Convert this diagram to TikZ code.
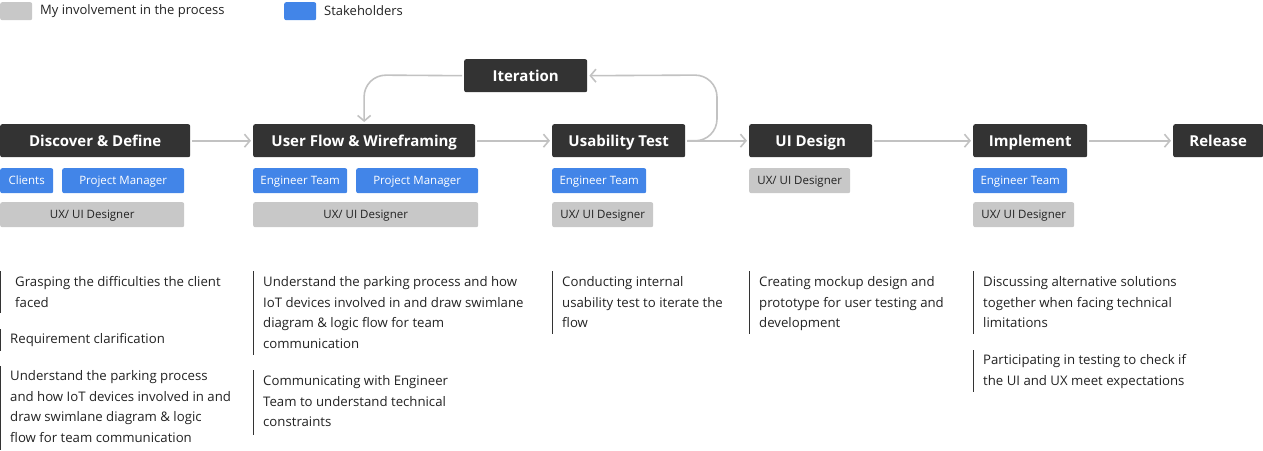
\documentclass[tikz,border=0pt]{standalone}
\usepackage{fontspec}
\setmainfont{Open Sans}
\usetikzlibrary{arrows.meta}
\definecolor{darkc}{HTML}{333333}
\definecolor{bluec}{HTML}{4285E8}
\definecolor{grayc}{HTML}{C8C8C8}
\definecolor{arrc}{HTML}{C2C2C2}
\definecolor{txtc}{HTML}{222222}
\tikzset{
  darkbox/.style={fill=darkc, text=white, rounded corners=2, font=\bfseries\fontsize{15}{17}\selectfont, minimum height=33, inner sep=0, text height=10.7, text depth=0, anchor=north west},
  bluebox/.style={fill=bluec, text=white, rounded corners=2, font=\fontsize{11.5}{13}\selectfont, minimum height=25, inner sep=0, text height=8.2, text depth=0, anchor=north west},
  graybox/.style={fill=grayc, text=txtc, rounded corners=2, font=\fontsize{11.5}{13}\selectfont, minimum height=25, inner sep=0, text height=8.2, text depth=0, anchor=north west},
  legbox/.style={rounded corners=2, minimum width=32, minimum height=18, inner sep=0, anchor=north west},
  legtxt/.style={text=txtc, font=\fontsize{13}{15}\selectfont, anchor=west, inner sep=0},
  desc/.style={text=txtc, font=\fontsize{13.2}{20.8}\selectfont, align=left, anchor=north west, inner sep=0},
  bar/.style={draw=darkc, line width=1},
  conn/.style={draw=arrc, line width=1.6, -{Straight Barb[length=5.5,width=13]}, shorten >=2, shorten <=2},
}
\begin{document}
\begin{tikzpicture}[x=1pt,y=-1pt]
\useasboundingbox (0,0) rectangle (1263,450);
% legend
\node[legbox, fill=grayc] (lg) at (0,2) {};
\node[legtxt] (lgt) at (40,11) {My involvement in the process};
\node[legbox, fill=bluec] (lb) at (284,2) {};
\node[legtxt] (lbt) at (324,11) {Stakeholders};
% main steps
\node[darkbox, minimum width=190] (dd) at (0,124) {Discover \& Define};
\node[darkbox, minimum width=222] (uf) at (253,124) {User Flow \& Wireframing};
\node[darkbox, minimum width=133] (ut) at (552,124) {Usability Test};
\node[darkbox, minimum width=123] (ui) at (749,124) {UI Design};
\node[darkbox, minimum width=114] (im) at (973,124) {Implement};
\node[darkbox, minimum width=90] (re) at (1173,124) {Release};
\node[darkbox, minimum width=123] (it) at (464,59) {Iteration};
% connectors
\draw[conn] (dd) -- (uf);
\draw[conn] (uf) -- (ut);
\draw[conn] (ut) -- (ui);
\draw[conn] (ui) -- (im);
\draw[conn] (im) -- (re);
\coordinate (c1) at (717,141);
\coordinate (c2) at (717,75);
\coordinate (c3) at (364,75);
\draw[conn, rounded corners=22] (ut.east) -- (c1) -- (c2) -- (it.east);
\draw[conn, rounded corners=22] (it.west) -- (c3) -- (uf.north);
% stakeholders
\node[bluebox, minimum width=53] (s1) at (0,168) {Clients};
\node[bluebox, minimum width=122] (s2) at (62,168) {Project Manager};
\node[graybox, minimum width=184] (s3) at (0,202) {UX/ UI Designer};
\node[bluebox, minimum width=94] (s4) at (253,168) {Engineer Team};
\node[bluebox, minimum width=122] (s5) at (356,168) {Project Manager};
\node[graybox, minimum width=225] (s6) at (253,202) {UX/ UI Designer};
\node[bluebox, minimum width=94] (s7) at (552,168) {Engineer Team};
\node[graybox, minimum width=101] (s8) at (552,202) {UX/ UI Designer};
\node[graybox, minimum width=101] (s9) at (749,168) {UX/ UI Designer};
\node[bluebox, minimum width=94] (s10) at (973,168) {Engineer Team};
\node[graybox, minimum width=101] (s11) at (973,202) {UX/ UI Designer};
% descriptions
\draw[bar] (0.5,271) -- (0.5,313);
\node[desc] (d1) at (15,276) {Grasping the difficulties the client\\faced};
\draw[bar] (0.5,329) -- (0.5,351);
\node[desc] (d2) at (10,333) {Requirement clarification};
\draw[bar] (0.5,366) -- (0.5,450);
\node[desc] (d3) at (10,370) {Understand the parking process\\and how IoT devices involved in and\\draw swimlane diagram \& logic\\flow for team communication};
\draw[bar] (253.5,271) -- (253.5,355);
\node[desc] (d4) at (263,276) {Understand the parking process and how\\IoT devices involved in and draw swimlane\\diagram \& logic flow for team\\communication};
\draw[bar] (253.5,370) -- (253.5,435);
\node[desc] (d5) at (263,375) {Communicating with Engineer\\Team to understand technical\\constraints};
\draw[bar] (552.5,271) -- (552.5,334);
\node[desc] (d6) at (562,276) {Conducting internal\\usability test to iterate the\\flow};
\draw[bar] (749.5,271) -- (749.5,334);
\node[desc] (d7) at (759,276) {Creating mockup design and\\prototype for user testing and\\development};
\draw[bar] (973.5,271) -- (973.5,334);
\node[desc] (d8) at (983,276) {Discussing alternative solutions\\together when facing technical\\limitations};
\draw[bar] (973.5,350) -- (973.5,392);
\node[desc] (d9) at (983,354) {Participating in testing to check if\\the UI and UX meet expectations};
\end{tikzpicture}
\end{document}
